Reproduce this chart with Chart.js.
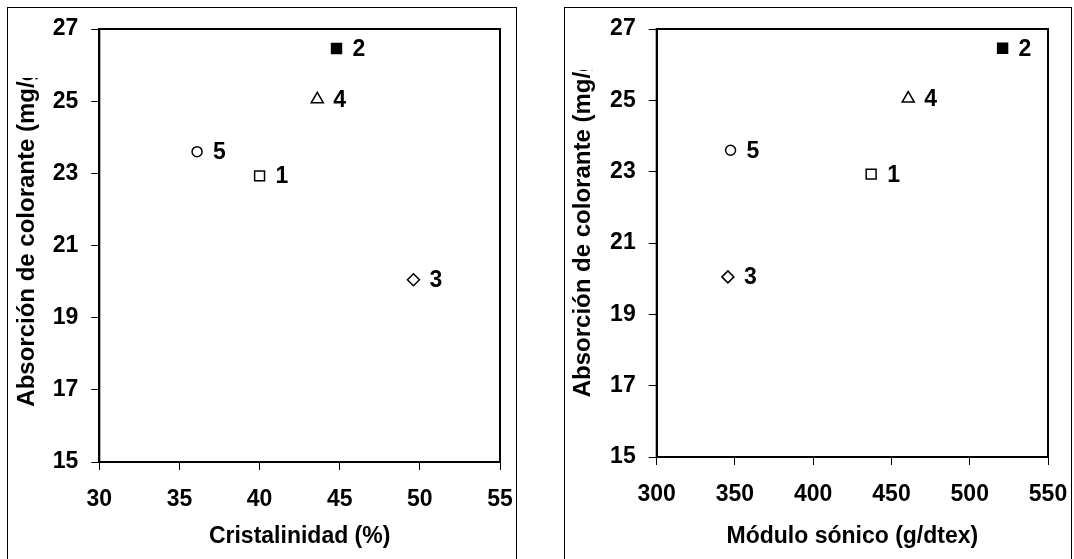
<!DOCTYPE html>
<html>
<head>
<meta charset="utf-8">
<script src="https://cdn.jsdelivr.net/npm/chart.js@4.4.1/dist/chart.umd.min.js"></script>
<style>
html, body { margin: 0; padding: 0; background: #fff; }
body { width: 1074px; height: 559px; position: relative; overflow: hidden; }
.panel { position: absolute; top: 7px; height: 570px; border: 1px solid #000; box-sizing: border-box; }
#p1 { left: 7px; width: 510px; }
#p2 { left: 564px; width: 508px; }
canvas { position: absolute; left: 0; top: 0; }
</style>
</head>
<body>
<div class="panel" id="p1"><canvas id="c1" width="507" height="551"></canvas></div>
<div class="panel" id="p2"><canvas id="c2" width="505" height="551"></canvas></div>
<script>
// muestras y valores
const labels = ['1', '2', '3', '4', '5'];
const absorcion = [22.93, 26.46, 20.05, 25.05, 23.6];
const cristalinidad = [40.0, 44.8, 49.6, 43.6, 36.1];
const moduloSonico = [437, 521, 345.5, 460.7, 347.2];

const yTicks = [15, 17, 19, 21, 23, 25, 27];
const xTicksCrist = [30, 35, 40, 45, 50, 55];
const xTicksModulo = [300, 350, 400, 450, 500, 550];

const yTitle = 'Absorción de colorante (mg/g)';

// estilos de marcador
const pointStyles = ['rect', 'rect', 'rectRot', 'triangle', 'circle'];
const pointFills = ['#fff', '#000', '#fff', '#fff', '#fff'];
const pointSizes = [7, 7, 6, 7, 5];

const FONT = '"Liberation Sans", Arial, sans-serif';

const decor = {
    id: 'decor',
    beforeDatasetsDraw(chart) {
        const ctx = chart.ctx, a = chart.chartArea;
        ctx.save();
        ctx.strokeStyle = '#000';
        ctx.lineWidth = 2;
        ctx.strokeRect(a.left, a.top, a.right - a.left, a.bottom - a.top);
        ctx.restore();
    },
    afterDatasetsDraw(chart, args, opts) {
        const ctx = chart.ctx, a = chart.chartArea;
        ctx.save();
        ctx.fillStyle = '#000';

        // etiquetas de los puntos
        ctx.font = 'bold 23px ' + FONT;
        ctx.textAlign = 'left';
        ctx.textBaseline = 'middle';
        chart.getDatasetMeta(0).data.forEach((pt, i) => {
            ctx.fillText(labels[i], pt.x + 16, pt.y + 1);
        });

        // título eje x
        ctx.font = 'bold 23px ' + FONT;
        ctx.textAlign = 'center';
        ctx.fillText(opts.xTitle, (a.left + a.right) / 2, opts.xTitleY);

        // título eje y (recortado como en el original)
        ctx.beginPath();
        ctx.rect(0, opts.clipTop, chart.width, chart.height);
        ctx.clip();
        ctx.translate(opts.yTitleX, opts.yTitleBottom);
        ctx.rotate(-Math.PI / 2);
        ctx.font = 'bold 24px ' + FONT;
        ctx.textAlign = 'left';
        ctx.fillText(yTitle, 0, 0);
        ctx.restore();
    }
};

function makeChart(id, xValues, xTicks, cfg) {
    const ctx = document.getElementById(id).getContext('2d');
    return new Chart(ctx, {
        type: 'scatter',
        data: {
            datasets: [{
                data: xValues.map((x, i) => ({ x: x, y: absorcion[i] })),
                pointStyle: pointStyles,
                pointRadius: pointSizes,
                pointHoverRadius: pointSizes,
                backgroundColor: pointFills,
                borderColor: '#000',
                borderWidth: 1.5
            }]
        },
        options: {
            responsive: false,
            devicePixelRatio: 1,
            animation: false,
            layout: { padding: { left: 0, top: 21, right: cfg.padRight, bottom: 0 } },
            plugins: {
                legend: { display: false },
                tooltip: { enabled: false },
                decor: cfg.decor
            },
            scales: {
                x: {
                    type: 'linear',
                    min: xTicks[0],
                    max: xTicks[xTicks.length - 1],
                    afterBuildTicks: s => { s.ticks = xTicks.map(v => ({ value: v })); },
                    afterFit: s => { s.height = cfg.xHeight; s.paddingLeft = 0; s.paddingRight = 0; },
                    grid: { drawOnChartArea: false, tickLength: 8, tickColor: '#000', tickWidth: 1 },
                    border: { color: '#000', width: 2 },
                    ticks: { color: '#000', padding: 16, maxRotation: 0, font: { family: FONT, size: 23, weight: 'bold' } }
                },
                y: {
                    type: 'linear',
                    min: yTicks[0],
                    max: yTicks[yTicks.length - 1],
                    afterBuildTicks: s => { s.ticks = yTicks.map(v => ({ value: v })); },
                    afterFit: s => { s.width = cfg.yWidth; s.paddingTop = 0; s.paddingBottom = 0; },
                    grid: { drawOnChartArea: false, tickLength: 8, tickColor: '#000', tickWidth: 1 },
                    border: { color: '#000', width: 2 },
                    ticks: { color: '#000', padding: 13, font: { family: FONT, size: 23, weight: 'bold' } }
                }
            }
        },
        plugins: [decor]
    });
}

makeChart('c1', cristalinidad, xTicksCrist, {
    padRight: 15, xHeight: 97, yWidth: 91.3,
    decor: { xTitle: 'Cristalinidad (%)', xTitleY: 529, yTitleX: 19.5, yTitleBottom: 398.7, clipTop: 70 }
});

makeChart('c2', moduloSonico, xTicksModulo, {
    padRight: 22, xHeight: 102, yWidth: 91.7,
    decor: { xTitle: 'Módulo sónico (g/dtex)', xTitleY: 529, yTitleX: 18, yTitleBottom: 389.3, clipTop: 62 }
});
</script>
</body>
</html>
